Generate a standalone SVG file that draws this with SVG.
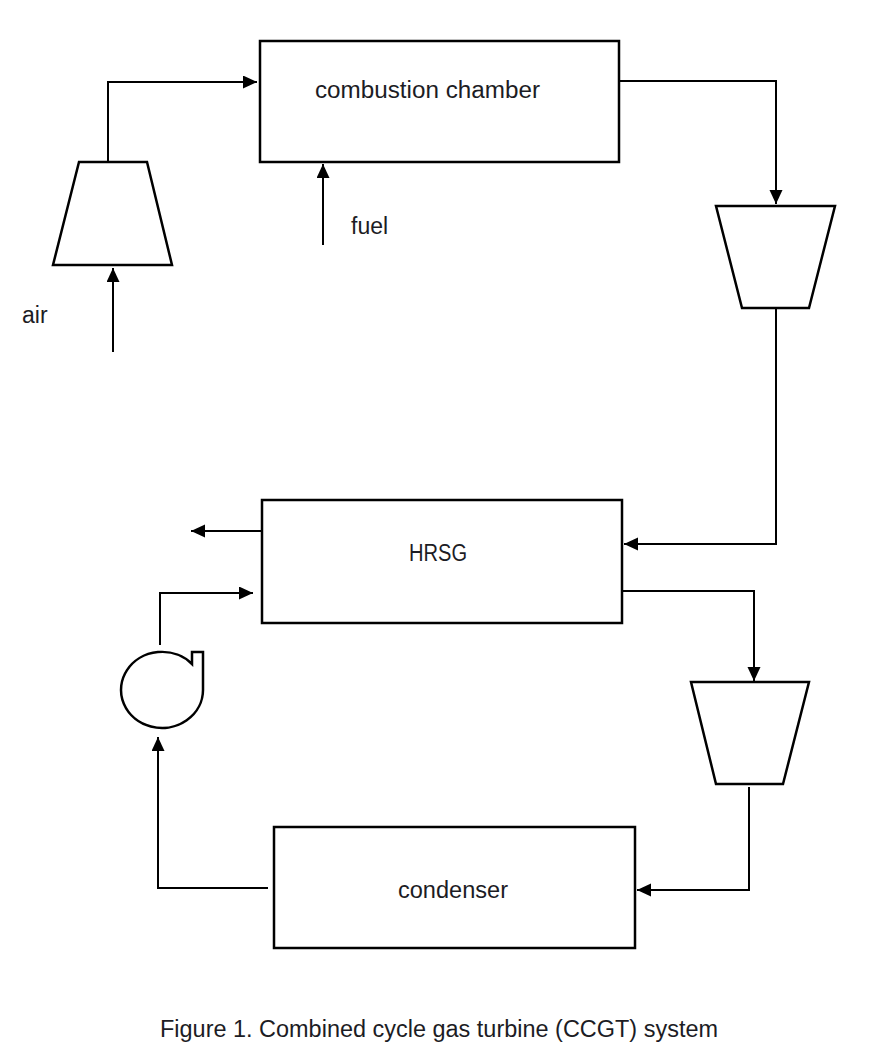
<svg xmlns="http://www.w3.org/2000/svg" width="880" height="1060" viewBox="0 0 880 1060">
<style>
.box{fill:#fff;stroke:#000;stroke-width:2.5}
.line{fill:none;stroke:#000;stroke-width:2}
.lbl{font-family:"Liberation Sans",Arial,sans-serif;font-size:23px;fill:#1c1c24}
</style>
<defs>
<marker id="arr" markerUnits="userSpaceOnUse" markerWidth="16" markerHeight="14" refX="14" refY="6.5" orient="auto">
<path d="M0,0 L14,6.5 L0,13 Z" fill="#000"/>
</marker>
</defs>
<rect width="880" height="1060" fill="#fff"/>
<g id="connectors">
<path class="line" d="M108,162 V82 H257" marker-end="url(#arr)"/>
<path class="line" d="M113,352 V268" marker-end="url(#arr)"/>
<path class="line" d="M323,245 V164" marker-end="url(#arr)"/>
<path class="line" d="M619,81 H776 V204" marker-end="url(#arr)"/>
<path class="line" d="M776,308 V544 H624" marker-end="url(#arr)"/>
<path class="line" d="M262,531 H191" marker-end="url(#arr)"/>
<path class="line" d="M622,591 H754 V681" marker-end="url(#arr)"/>
<path class="line" d="M749,787 V890 H637" marker-end="url(#arr)"/>
<path class="line" d="M268,888 H158 V737" marker-end="url(#arr)"/>
<path class="line" d="M160,645 V593 H253" marker-end="url(#arr)"/>
</g>
<g id="compressor">
<polygon class="box" points="79,162 147,162 172,265 53,265"/>
</g>
<g id="combustion-chamber">
<rect class="box" x="260" y="41" width="359" height="121"/>
<text class="lbl" x="315" y="98" textLength="225" lengthAdjust="spacingAndGlyphs">combustion chamber</text>
</g>
<g id="air-label">
<text class="lbl" x="22" y="323">air</text>
</g>
<g id="fuel-label">
<text class="lbl" x="351" y="234">fuel</text>
</g>
<g id="gas-turbine">
<polygon class="box" points="716,206 835,206 809,308 742,308"/>
</g>
<g id="hrsg">
<rect class="box" x="262" y="500" width="360" height="123"/>
<text class="lbl" x="409" y="561" textLength="58" lengthAdjust="spacingAndGlyphs">HRSG</text>
</g>
<g id="steam-turbine">
<polygon class="box" points="691,682 809,682 783,784 716,784"/>
</g>
<g id="condenser">
<rect class="box" x="274" y="827" width="361" height="121"/>
<text class="lbl" x="398" y="898" textLength="110" lengthAdjust="spacingAndGlyphs">condenser</text>
</g>
<g id="pump">
<path class="box" d="M203,690 A41,38 0 1 1 192,664 L192,652 L203,652 Z"/>
</g>
<g id="caption">
<text class="lbl" x="160" y="1037" textLength="558" lengthAdjust="spacingAndGlyphs">Figure 1. Combined cycle gas turbine (CCGT) system</text>
</g>
</svg>
